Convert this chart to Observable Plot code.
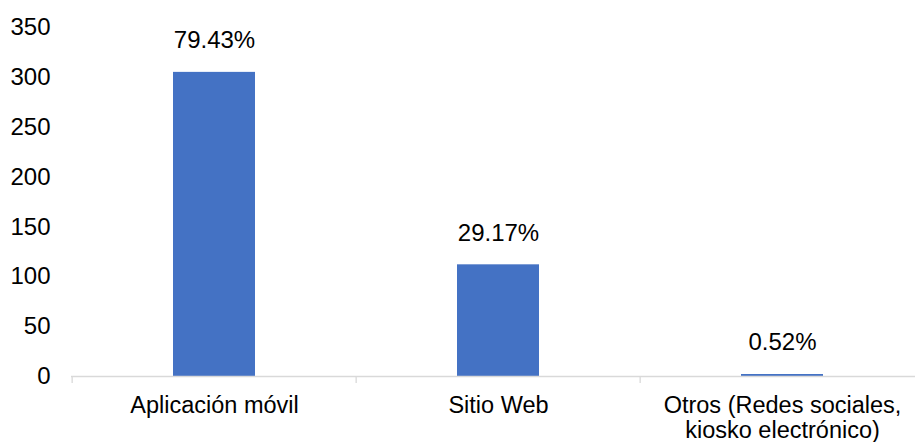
<!DOCTYPE html>
<html>
<head>
<meta charset="utf-8">
<script src="https://cdn.jsdelivr.net/npm/d3@7"></script>
<script src="https://cdn.jsdelivr.net/npm/@observablehq/plot@0.6"></script>
<style>
  html, body { margin: 0; padding: 0; background: #fff; overflow: hidden; }
  svg { overflow: visible; }
</style>
</head>
<body>
<div id="chart"></div>
<script>
const categories = ["Aplicación móvil", "Sitio Web", "Otros (Redes sociales, kiosko electrónico)"];
const tickLabels = ["Aplicación móvil", "Sitio Web", "Otros (Redes sociales,\nkiosko electrónico)"];
const values = [305, 112, 2];
const percentLabels = ["79.43%", "29.17%", "0.52%"];
const yTicks = [0, 50, 100, 150, 200, 250, 300, 350];

const data = categories.map((c, i) => ({cat: c, value: values[i], pct: percentLabels[i]}));

const W = 915, H = 442;
const xRange = [71, 925];
const halfBand = (xRange[1] - xRange[0]) / categories.length / 2;
const font = "'Liberation Sans', Arial, sans-serif";

const chart = Plot.plot({
  width: W,
  height: H,
  marginLeft: 71,
  marginRight: 0,
  marginTop: 27,
  marginBottom: 66,
  style: {fontFamily: font, fontSize: "24px", color: "#000", background: "#fff", overflow: "visible"},
  x: {domain: categories, range: xRange, padding: 0},
  y: {domain: [0, 350], ticks: yTicks},
  marks: [
    Plot.axisY({ticks: yTicks, tickSize: 0, tickPadding: 21, fontSize: 24, label: null}),
    Plot.axisX({tickSize: 0, tickPadding: 19, fontSize: 23.5, lineHeight: 1.05, label: null,
      tickFormat: d => tickLabels[categories.indexOf(d)]}),
    Plot.barY(data, {x: "cat", y: "value", fill: "#4472C4", insetLeft: 101, insetRight: 101}),
    Plot.ruleY([0], {stroke: "#d9d9d9", strokeWidth: 1.3}),
    Plot.ruleX(categories, {x: d => d, y1: 0, y2: 0, dx: -halfBand, insetBottom: -7, stroke: "#d9d9d9", strokeWidth: 1.3}),
    Plot.text(data, {x: "cat", y: "value", text: "pct", dy: -32, fontSize: 24, fill: "#000"})
  ]
});
document.getElementById("chart").appendChild(chart);
</script>
</body>
</html>
